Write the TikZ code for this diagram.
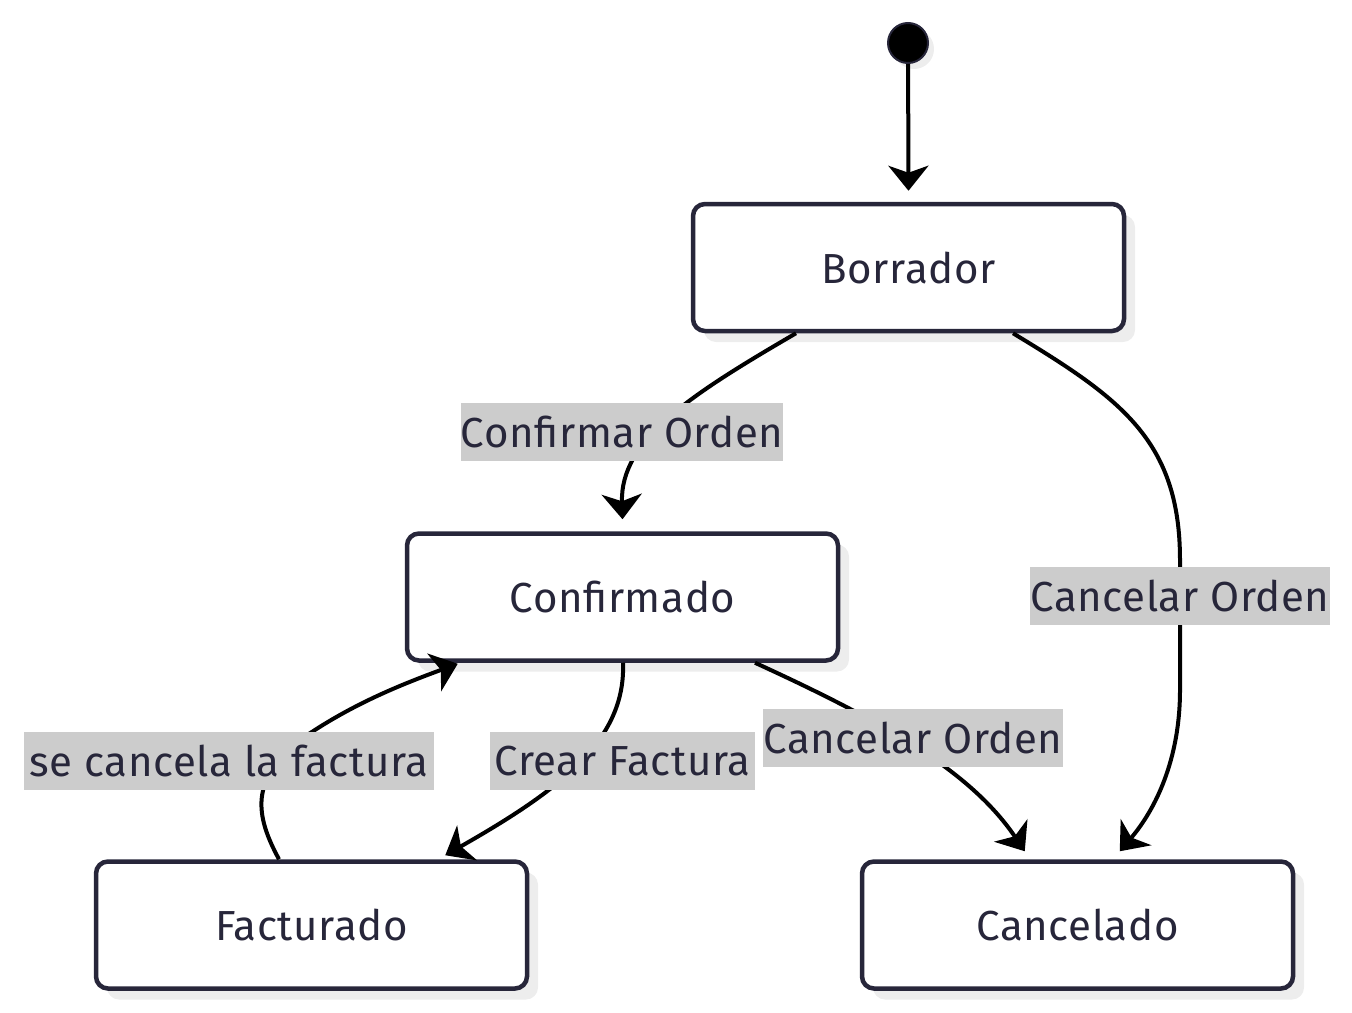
\documentclass[tikz,border=0pt]{standalone}
\usepackage{fontspec}
\setmainfont{Fira Sans}[LetterSpace=1.5]
\usetikzlibrary{arrows.meta,calc,shadows}
\definecolor{navy}{HTML}{27263A}
\definecolor{lbl}{HTML}{CCCCCC}
\definecolor{shd}{HTML}{EDEDED}
\begin{document}
\begin{tikzpicture}[x=1pt,y=-1pt,
  state/.style={draw=navy,line width=4.5pt,rounded corners=12pt,fill=white,
    minimum width=431pt,minimum height=127pt,text=navy,
    font=\fontsize{42}{50}\selectfont,
    drop shadow={shadow xshift=11pt,shadow yshift=-11pt,fill=shd,opacity=1}},
  lab/.style={fill=lbl,text=navy,inner sep=0pt,minimum height=58pt,
    font=\fontsize{42}{50}\selectfont},
  edge/.style={line width=4pt,black,-{Stealth[length=25pt,width=40pt,inset=7pt]}}]
\useasboundingbox (0,0) rectangle (1352,1012);
\node[circle,fill=black,draw=navy,line width=2pt,minimum size=40pt,inner sep=0pt,
  drop shadow={shadow xshift=6pt,shadow yshift=-6pt,fill=shd,opacity=1}] (start) at (908,43) {};
\node[state] (borrador) at (908.5,267.5) {Borrador};
\node[state] (confirmado) at (622.5,597) {Confirmado};
\node[state] (facturado) at (311.5,925) {Facturado};
\node[state] (cancelado) at (1077.5,925) {Cancelado};

\draw[edge] (start) -- ($(borrador.north)+(0,-11)$);
\draw[edge] ($(borrador.south)+(-112.5,0)$) .. controls (690,395) and (620,440) .. ($(confirmado.north)+(0,-12)$);
\draw[edge] ($(borrador.south)+(104.5,0)$) .. controls (1120,398) and (1180,440) .. (1180,560) -- (1180,690) .. controls (1180,760) and (1155,810) .. ($(cancelado.north west)+(260,-8)$);
\draw[edge] ($(confirmado.south)+(132.5,0)$) .. controls (880,720) and (970,770) .. ($(cancelado.north west)+(165,-8)$);
\draw[edge] ($(confirmado.south)+(0.5,0)$) .. controls (626,740) and (560,790) .. ($(facturado.north east)+(-84,-4)$);
\draw[edge] ($(facturado.north)+(-32.5,0)$) .. controls (255,815) and (250,780) .. (300,740) .. controls (350,705) and (400,685) .. ($(confirmado.south west)+(53,1)$);

\node[lab,minimum width=320pt] (l1) at (622,432) {Confirmar Orden};
\node[lab,minimum width=296pt] (l2) at (1180,596) {Cancelar Orden};
\node[lab,minimum width=296pt] (l3) at (913,737.5) {Cancelar Orden};
\node[lab,minimum width=265pt] (l4) at (622.5,761) {Crear Factura};
\node[lab,minimum width=410pt] (l5) at (229,761) {se cancela la factura};
\end{tikzpicture}
\end{document}
